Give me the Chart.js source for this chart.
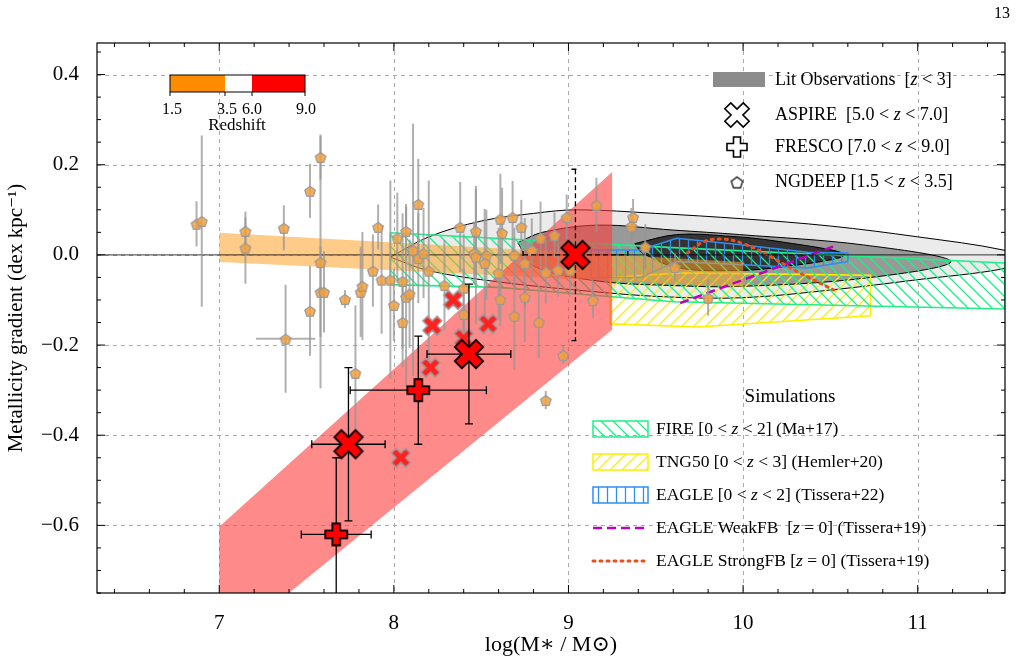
<!DOCTYPE html>
<html><head><meta charset="utf-8">
<script src="https://cdn.jsdelivr.net/npm/chart.js@4.4.1/dist/chart.umd.min.js"></script>
<style>html,body{margin:0;padding:0;background:#fff}#wrap{width:1022px;height:662px;position:relative}</style>
</head><body><div id="wrap"><canvas id="c" width="1022" height="662"></canvas></div>
<script>
// ---------- DATA ----------
const xTicks=[7,8,9,10,11];
const yTicks=[-0.6,-0.4,-0.2,0,0.2,0.4];
const ngdeepX=[6.87,6.90,7.15,7.15,7.37,7.52,7.58,7.58,7.58,7.60,7.72,7.52,7.38,7.81,7.82,7.88,7.93,7.98,7.91,8.02,8.07,8.14,8.05,8.07,8.09,8.00,8.05,8.11,8.14,8.17,8.20,8.29,8.40,8.40,8.38,8.47,8.46,8.47,8.53,8.52,8.60,8.61,8.68,8.62,8.73,8.69,8.75,8.61,8.69,8.75,8.83,8.79,8.84,8.92,8.87,8.94,8.99,9.01,9.16,9.14,8.97,8.87,9.37,9.36,9.80,9.61,9.44,7.78];
const ngdeepY=[0.069,0.075,0.053,0.016,0.060,0.142,0.217,-0.016,-0.082,-0.082,-0.098,-0.124,-0.186,-0.082,-0.069,-0.035,-0.055,-0.055,0.062,0.038,0.053,0.113,-0.058,-0.093,-0.086,-0.111,-0.149,0.011,-0.007,0.004,-0.035,-0.067,-0.073,-0.131,0.062,0.053,0.004,-0.004,0.0,-0.018,-0.040,0.080,0.084,0.049,0.062,0.0,-0.018,-0.098,-0.135,-0.093,-0.149,0.011,0.038,0.044,-0.038,-0.033,0.084,-0.033,0.111,-0.100,-0.222,-0.322,0.084,0.064,-0.095,-0.027,0.018,-0.262];
const ngdeepYerr=[0.05,0.19,0.03,0.08,0.05,0.06,0.05,0.28,0.1,0.09,0.02,0.1,0.12,0.1,0.12,0.08,0.12,0.22,0.05,0.1,0.06,0.1,0.15,0.2,0.12,0.08,0.1,0.28,0.1,0.1,0.2,0.1,0.12,0.1,0.1,0.1,0.07,0.15,0.1,0.12,0.1,0.1,0.08,0.1,0.06,0.06,0.1,0.06,0.12,0.1,0.08,0.07,0.08,0.05,0.07,0.06,0.05,0.06,0.06,0.04,0.02,0.02,0.04,0.04,0.04,0.03,0.05,0.15];
const ngdeepXerr=[0,0,0,0,0,0,0,0,0,0,0,0,0.17,0,0,0,0,0,0,0,0,0,0,0,0,0,0,0,0,0,0,0,0,0,0,0,0,0,0,0,0,0,0,0,0,0,0,0,0,0,0,0,0,0,0,0,0,0,0,0,0,0,0,0,0,0,0,0];
const smallX=[8.04,8.22,8.34,8.21,8.40,8.54];
const smallY=[-0.45,-0.157,-0.10,-0.25,-0.185,-0.153];
const aspireX=[9.04,7.74,8.43];
const aspireY=[0.0,-0.42,-0.22];
const aspireXerr=[0.3,0.21,0.24];
const aspireYerr=[0.19,0.17,0.155];
const frescoX=[8.14,7.67];
const frescoY=[-0.30,-0.62];
const frescoXerr=[0.39,0.2];
const frescoYerrUp=[0.12,0.17];
const frescoYerrDn=[0.12,0.3];
const litOuterX=[7.98,8.2,8.5,8.8,9.05,9.5,10.0,10.5,11.0,11.5,11.6,11.5,11.0,10.5,10.0,9.55,9.1,8.6,8.2,7.98];
const litOuterY=[-0.005,0.04,0.075,0.092,0.10,0.092,0.08,0.064,0.04,0.01,-0.01,-0.03,-0.055,-0.078,-0.095,-0.093,-0.08,-0.06,-0.035,-0.005];
const litMidX=[8.71,8.85,9.17,9.6,9.98,10.69,11.19,10.69,9.98,9.6,9.17,8.8,8.71];
const litMidY=[0.027,0.05,0.066,0.055,0.045,0.022,-0.015,-0.052,-0.07,-0.068,-0.058,-0.025,0.027];
const litInX=[9.38,9.62,9.9,10.2,10.58,10.2,9.9,9.62,9.42,9.38];
const litInY=[0.025,0.045,0.042,0.03,0.0,-0.028,-0.035,-0.028,0.005,0.025];
const fireX=[7.98,9.6,11.5,11.5,9.6,8.6,7.98,7.98];
const fireY=[0.049,0.016,-0.018,-0.12,-0.104,-0.072,-0.066,0.049];
const tngX=[9.24,9.65,10.73,10.73,9.74,9.24,9.24];
const tngY=[-0.05,-0.04,-0.045,-0.135,-0.16,-0.153,-0.05];
const eagleX=[9.13,9.41,9.62,10.0,10.37,10.6,10.6,10.37,10.0,9.62,9.41,9.13,9.13];
const eagleY=[0.011,0.011,0.037,0.022,0.006,0.004,-0.015,-0.029,-0.022,-0.015,-0.05,-0.05,0.011];
const weakX=[9.64,10.54];
const weakY=[-0.107,0.022];
const strongX=[9.68,9.78,9.89,10.0,10.12,10.3,10.52];
const strongY=[0.004,0.03,0.035,0.025,0.004,-0.035,-0.078];
const orangeBandX=[7.0,10.0,10.0,7.0,7.0];
const orangeBandY=[0.049,-0.016,-0.071,-0.016,0.049];
const redBandX=[7.0,9.25,9.25,7.0,7.0];
const redBandY=[-0.603,0.184,-0.166,-0.876,-0.603];

// ---------- helpers ----------
const pts=(xs,ys)=>xs.map((x,i)=>({x,y:ys[i]}));
function hatch(color,kind){const c=document.createElement('canvas');const s=kind==='v'?9:12;c.width=s;c.height=s;const g=c.getContext('2d');g.strokeStyle=color;g.lineWidth=1.3;g.beginPath();
 if(kind==='v'){g.moveTo(s/2,0);g.lineTo(s/2,s);}else if(kind==='b'){g.moveTo(0,0);g.lineTo(s,s);g.moveTo(-s/2,s/2);g.lineTo(s/2,s*1.5);g.moveTo(s/2,-s/2);g.lineTo(s*1.5,s/2);}
 else {g.moveTo(0,s);g.lineTo(s,0);g.moveTo(-s/2,s/2);g.lineTo(s/2,-s/2);g.moveTo(s/2,s*1.5);g.lineTo(s*1.5,s/2);}
 g.stroke();return document.getElementById('c').getContext('2d').createPattern(c,'repeat');}
function pentagon(r,fill,stroke,lw){const c=document.createElement('canvas');const s=Math.ceil(2*r+lw*2+2);c.width=s;c.height=s;const g=c.getContext('2d');g.beginPath();for(let i=0;i<5;i++){const a=-Math.PI/2+i*2*Math.PI/5;g.lineTo(s/2+r*Math.cos(a),s/2+r*Math.sin(a)+1);}g.closePath();g.fillStyle=fill;g.fill();g.strokeStyle=stroke;g.lineWidth=lw;g.stroke();return c;}
function crossImg(r,w,fill,stroke,lw,rot){const c=document.createElement('canvas');const s=Math.ceil(2*r+lw*2+4);c.width=s;c.height=s;const g=c.getContext('2d');g.translate(s/2,s/2);if(rot)g.rotate(Math.PI/4);g.beginPath();
 const p=[[-w,-r],[w,-r],[w,-w],[r,-w],[r,w],[w,w],[w,r],[-w,r],[-w,w],[-r,w],[-r,-w],[-w,-w]];p.forEach(q=>g.lineTo(q[0],q[1]));g.closePath();g.fillStyle=fill;g.fill();g.strokeStyle=stroke;g.lineWidth=lw;g.lineJoin='miter';g.stroke();return c;}
const pentImg=pentagon(5.5,'rgba(245,160,60,0.85)','#999',1.3);
const smallXImg=crossImg(10,3.3,'#ff2020','#999',1.5,true);
const bigXImg=crossImg(15,5,'#ff0000','#000',1.8,true);
const plusImg=crossImg(11,3.8,'#ff0000','#000',1.8,false);
const legXImg=crossImg(13,4.2,'#fff','#000',1.6,true);
const legPlusImg=crossImg(10,3.5,'#fff','#000',1.6,false);
const legPentImg=pentagon(6,'#fff','#000',1.2);
const serif='"Liberation Serif","DejaVu Serif",serif';

function poly(label,xs,ys,bg,border,bw,order,extra){return Object.assign({type:'line',label,data:pts(xs,ys),backgroundColor:bg,borderColor:border,borderWidth:bw,pointRadius:0,fill:'shape',order,tension:0},extra||{});}

const datasets=[
 poly('litOuter',litOuterX,litOuterY,'#ebebeb','#000',1,30,{tension:0.35}),
 poly('litMid',litMidX,litMidY,'#999','#000',1,29,{tension:0.35}),
 poly('litIn',litInX,litInY,'#333','#000',1,28,{tension:0.35}),
 poly('tng',tngX,tngY,null,'#ffee00',1.6,27),
 poly('fire',fireX,fireY,null,'#22ee88',1.6,26),
 poly('eagle',eagleX,eagleY,null,'#2f8ff0',1.6,25),
 poly('orange',orangeBandX,orangeBandY,'rgba(255,160,40,0.55)','rgba(0,0,0,0)',0,24),
 {type:'line',label:'weak',data:pts(weakX,weakY),borderColor:'#c000c0',borderWidth:2.5,borderDash:[9,5],pointRadius:0,fill:false,order:23},
 {type:'line',label:'strong',data:pts(strongX,strongY),borderColor:'#e85020',borderWidth:3,borderDash:[2,5],borderCapStyle:'round',pointRadius:0,fill:false,order:22,tension:0.4},
 {type:'line',label:'zero',data:[{x:6.3,y:0},{x:11.5,y:0}],borderColor:'#000',borderWidth:0.8,pointRadius:0,fill:false,order:21},
 poly('red',redBandX,redBandY,'rgba(255,60,60,0.6)','rgba(0,0,0,0)',0,20),
 {type:'scatter',label:'ngdeep',data:pts(ngdeepX,ngdeepY),pointStyle:pentImg,order:6,err:{xs:ngdeepXerr,ym:ngdeepYerr,yp:ngdeepYerr,color:'rgba(150,150,150,0.75)',lw:2,cap:0}},
 {type:'scatter',label:'smallx',data:pts(smallX,smallY),pointStyle:smallXImg,order:5},
 {type:'scatter',label:'fresco',data:pts(frescoX,frescoY),pointStyle:plusImg,order:3,err:{xs:frescoXerr,ym:frescoYerrDn,yp:frescoYerrUp,color:'#000',lw:1.3,cap:4}},
 {type:'scatter',label:'aspire',data:pts(aspireX,aspireY),pointStyle:bigXImg,order:2,err:{xs:aspireXerr,ym:aspireYerr,yp:aspireYerr,color:'#000',lw:1.3,cap:4,dashFirst:true}},
];

const errPlugin={id:'err',beforeDatasetDraw(chart,args){const ds=chart.data.datasets[args.index];if(!ds.err)return;const e=ds.err,x=chart.scales.x,y=chart.scales.y,g=chart.ctx;g.save();
 const a=chart.chartArea;g.beginPath();g.rect(a.left,a.top,a.right-a.left,a.bottom-a.top);g.clip();
 g.strokeStyle=e.color;g.lineWidth=e.lw;ds.data.forEach((p,i)=>{g.setLineDash(e.dashFirst&&i===0?[5,3]:[]);const px=x.getPixelForValue(p.x),py=y.getPixelForValue(p.y);
 const y1=y.getPixelForValue(p.y+e.yp[i]),y2=y.getPixelForValue(p.y-e.ym[i]);g.beginPath();g.moveTo(px,y1);g.lineTo(px,y2);
 if(e.cap){g.moveTo(px-e.cap,y1);g.lineTo(px+e.cap,y1);g.moveTo(px-e.cap,y2);g.lineTo(px+e.cap,y2);}
 if(e.xs[i]){const x1=x.getPixelForValue(p.x-e.xs[i]),x2=x.getPixelForValue(p.x+e.xs[i]);g.moveTo(x1,py);g.lineTo(x2,py);if(e.cap){g.moveTo(x1,py-e.cap);g.lineTo(x1,py+e.cap);g.moveTo(x2,py-e.cap);g.lineTo(x2,py+e.cap);}}
 g.stroke();});g.restore();}};

function rich(g,x,y,parts,size){let cx=x;parts.forEach(p=>{g.font=(p[1]?'italic ':'')+size+'px '+serif;g.fillText(p[0],cx,y);cx+=g.measureText(p[0]).width;});}
const gridPlugin={id:'grid2',beforeDatasetsDraw(chart){const g=chart.ctx,a=chart.chartArea,x=chart.scales.x,y=chart.scales.y;g.save();g.strokeStyle='#aaa';g.lineWidth=1;g.setLineDash([4,4]);g.beginPath();
 xTicks.forEach(v=>{const px=Math.round(x.getPixelForValue(v))+0.5;g.moveTo(px,a.top);g.lineTo(px,a.bottom);});
 yTicks.forEach(v=>{const py=Math.round(y.getPixelForValue(v))+0.5;g.moveTo(a.left,py);g.lineTo(a.right,py);});g.stroke();g.restore();}};
const decoPlugin={id:'deco',
 afterDraw(chart){const g=chart.ctx,a=chart.chartArea,x=chart.scales.x,y=chart.scales.y;g.save();
  g.strokeStyle='#000';g.lineWidth=1;g.beginPath();
  for(let v=6.4;v<=11.5;v+=0.2){const px=x.getPixelForValue(v);const maj=Math.abs(v-Math.round(v))<1e-6;const L=maj?8:4;g.moveTo(px,a.bottom);g.lineTo(px,a.bottom-L);g.moveTo(px,a.top);g.lineTo(px,a.top+L);}
  for(let v=-0.75;v<=0.46;v+=0.05){const py=y.getPixelForValue(v);const maj=Math.abs(v*5-Math.round(v*5))<1e-6;const L=maj?8:4;g.moveTo(a.left,py);g.lineTo(a.left+L,py);g.moveTo(a.right,py);g.lineTo(a.right-L,py);}
  g.stroke();g.lineWidth=1.2;g.strokeRect(a.left,a.top,a.right-a.left,a.bottom-a.top);
  g.fillStyle='#000';g.textBaseline='middle';
  g.font='16px '+serif;g.fillText('13',994,14);
  g.fillStyle='#ff8c00';g.fillRect(170,75,55,17);g.fillStyle='#fff';g.fillRect(225,75,27,17);g.fillStyle='#ff0000';g.fillRect(252,75,53,17);
  g.strokeStyle='#000';g.lineWidth=1;g.strokeRect(170,75,135,17);
  g.beginPath();[170,225,252,305].forEach(px=>{g.moveTo(px,92);g.lineTo(px,96);});g.stroke();
  g.fillStyle='#000';g.font='16px '+serif;g.textAlign='center';g.fillText('1.5',172,110);g.fillText('3.5',227,110);g.fillText('6.0',252,110);g.fillText('9.0',306,110);
  g.font='17px '+serif;g.fillText('Redshift',237,126);g.textAlign='left';
  g.fillStyle='#8c8c8c';g.fillRect(713,72,52,15);g.fillStyle='#000';
  rich(g,775,80,[['Lit Observations  [',0],['z',1],[' < 3]',0]],18);
  g.drawImage(legXImg,737-legXImg.width/2,115-legXImg.height/2);
  rich(g,775,115,[['ASPIRE  [5.0 < ',0],['z',1],[' < 7.0]',0]],18);
  g.drawImage(legPlusImg,737-legPlusImg.width/2,147-legPlusImg.height/2);
  rich(g,775,147,[['FRESCO [7.0 < ',0],['z',1],[' < 9.0]',0]],18);
  g.drawImage(legPentImg,737-legPentImg.width/2,182-legPentImg.height/2);
  rich(g,775,182,[['NGDEEP [1.5 < ',0],['z',1],[' < 3.5]',0]],18);
  g.font='19px '+serif;g.textAlign='center';g.fillText('Simulations',790,397);g.textAlign='left';
  const rows=[[429,'fire'],[462,'tng'],[495,'eagle'],[528,'weak'],[561,'strong']];
  const ps={fire:[hatch('#22ee88','b'),'#22ee88'],tng:[hatch('#ffee00','f'),'#ffee00'],eagle:[hatch('#2f8ff0','v'),'#2f8ff0']};
  rows.forEach(r=>{const yy=r[0];if(ps[r[1]]){g.fillStyle=ps[r[1]][0];g.fillRect(593,yy-8,55,16);g.strokeStyle=ps[r[1]][1];g.lineWidth=1.5;g.strokeRect(593,yy-8,55,16);}
   else if(r[1]==='weak'){g.strokeStyle='#c000c0';g.lineWidth=2.5;g.setLineDash([9,5]);g.beginPath();g.moveTo(593,yy);g.lineTo(648,yy);g.stroke();g.setLineDash([]);}
   else {g.strokeStyle='#e85020';g.lineWidth=3;g.setLineDash([2,5]);g.lineCap='round';g.beginPath();g.moveTo(593,yy);g.lineTo(648,yy);g.stroke();g.setLineDash([]);g.lineCap='butt';}});
  g.fillStyle='#000';
  rich(g,656,429,[['FIRE [0 < ',0],['z',1],[' < 2] (Ma+17)',0]],17.5);
  rich(g,656,462,[['TNG50 [0 < ',0],['z',1],[' < 3] (Hemler+20)',0]],17.5);
  rich(g,656,495,[['EAGLE [0 < ',0],['z',1],[' < 2] (Tissera+22)',0]],17.5);
  rich(g,656,528,[['EAGLE WeakFB  [',0],['z',1],[' = 0] (Tissera+19)',0]],17.5);
  rich(g,656,561,[['EAGLE StrongFB [',0],['z',1],[' = 0] (Tissera+19)',0]],17.5);
  g.restore();}};

datasets[3].backgroundColor=hatch('#ffee00','f');
datasets[4].backgroundColor=hatch('#22ee88','b');
datasets[5].backgroundColor=hatch('#2f8ff0','v');

new Chart(document.getElementById('c'),{type:'scatter',data:{datasets},
 options:{responsive:false,animation:false,devicePixelRatio:1,
  layout:{padding:{top:43,right:17,left:0,bottom:0}},
  plugins:{legend:{display:false},tooltip:{enabled:false}},
  scales:{
   x:{type:'linear',min:6.3,max:11.5,afterBuildTicks:s=>{s.ticks=xTicks.map(v=>({value:v}));},afterFit:s=>{s.height=69;},
    grid:{display:false},border:{display:false},
    ticks:{padding:10,color:'#000',font:{family:serif,size:21},callback:v=>String(v)},
    title:{display:true,text:'log(M∗ / M⊙)',color:'#000',font:{family:serif,size:22},padding:{top:0}}},
   y:{type:'linear',min:-0.75,max:0.47,afterBuildTicks:s=>{s.ticks=yTicks.map(v=>({value:v}));},afterFit:s=>{s.width=97;},
    grid:{display:false},border:{display:false},
    ticks:{padding:10,color:'#000',font:{family:serif,size:21},callback:v=>(v<0?'−':'')+Math.abs(v).toFixed(1)},
    title:{display:true,text:'Metallicity gradient (dex kpc⁻¹)',color:'#000',font:{family:serif,size:21},padding:{bottom:2}}}
  }},
 plugins:[gridPlugin,errPlugin,decoPlugin]});
</script></body></html>
